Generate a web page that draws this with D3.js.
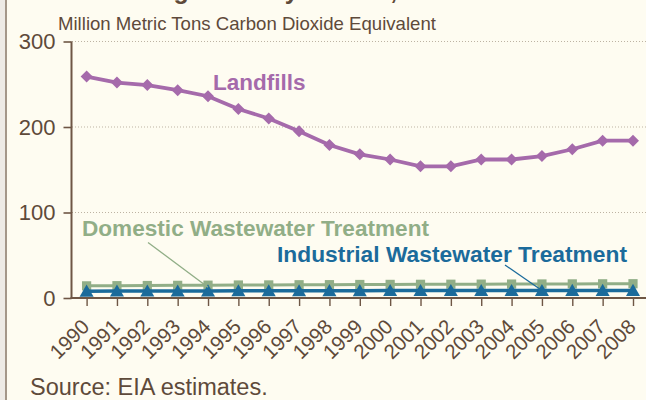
<!DOCTYPE html>
<html><head><meta charset="utf-8">
<script src="https://cdn.jsdelivr.net/npm/d3@7"></script>
<style>
html,body{margin:0;padding:0;background:#FEFCF1;}
svg{display:block;font-family:"Liberation Sans",Arial,Helvetica,sans-serif;}
</style></head>
<body>
<svg id="c" width="646" height="400"></svg>
<script>
const years = [1990,1991,1992,1993,1994,1995,1996,1997,1998,1999,2000,2001,2002,2003,2004,2005,2006,2007,2008];
const landfills = [259,252,249,243,236,221,210,195,179,168,162,154,154,162,162,166,174,184,184];
const domestic = [14.2,14.4,14.6,14.8,15.0,15.2,15.3,15.5,15.6,15.8,15.9,16.0,16.1,16.2,16.3,16.4,16.5,16.6,16.7];
const industrial = [8.0,8.1,8.2,8.2,8.3,8.4,8.5,8.5,8.6,8.6,8.7,8.7,8.7,8.8,8.8,8.8,8.9,8.9,8.9];
const yTicks = [0,100,200,300];
const title = "Waste Management by Source, 1990-2008";
const unitLabel = "Million Metric Tons Carbon Dioxide Equivalent";
const sourceNote = "Source: EIA estimates.";

const brown = "#5E4A3A";
const axisCol = "#6E5645";
const cPurple = "#A56AAB";
const cGreen = "#91AE87";
const cBlue = "#1B6B9B";

const svg = d3.select("#c");
svg.append("rect").attr("width",646).attr("height",400).attr("fill","#FEFCF1");
svg.append("rect").attr("x",0).attr("y",0).attr("width",5).attr("height",400).attr("fill","#EEEBE6");
svg.append("line").attr("x1",6).attr("x2",6).attr("y1",0).attr("y2",400).attr("stroke","#8E7E70").attr("stroke-width",1.6);

const x = d3.scaleLinear().domain([1990,2008]).range([86.6,633]);
const y = d3.scaleLinear().domain([0,300]).range([298,41.5]);

// cut-off title
svg.append("text").attr("x",30).attr("y",-1).attr("fill",brown)
  .attr("font-weight","bold").attr("font-size",25).text(title);

// unit label
svg.append("text").attr("x",58).attr("y",30).attr("fill",brown)
  .attr("font-size",18.6).text(unitLabel);

// gridlines
svg.append("g").selectAll("line").data(yTicks.filter(d=>d>0)).join("line")
  .attr("x1",72).attr("x2",646).attr("y1",d=>y(d)).attr("y2",d=>y(d))
  .attr("stroke","#BDB3A3").attr("stroke-width",1).attr("stroke-dasharray","1,2");

// y axis
const ya = svg.append("g").attr("transform","translate(71.5,0)")
  .call(d3.axisLeft(y).tickValues(yTicks).tickSize(8).tickPadding(8));
ya.select(".domain").remove();
ya.selectAll(".tick line").attr("stroke",axisCol).attr("stroke-width",1.6);
ya.selectAll(".tick text").attr("fill",brown).attr("font-size",22).attr("font-family","Liberation Sans, Arial, sans-serif");
svg.append("line").attr("x1",71.5).attr("x2",71.5).attr("y1",y(300)).attr("y2",y(0))
  .attr("stroke",axisCol).attr("stroke-width",2);

// x axis
const xa = svg.append("g").attr("transform",`translate(0,${y(0)})`)
  .call(d3.axisBottom(x).tickValues(years).tickFormat(d3.format("d")).tickSize(8).tickPadding(4));
xa.select(".domain").remove();
xa.selectAll(".tick line").attr("stroke",axisCol).attr("stroke-width",1.4);
xa.selectAll(".tick text").attr("fill",brown).attr("font-size",20.5)
  .attr("font-family","Liberation Sans, Arial, sans-serif")
  .attr("text-anchor","end").attr("x",0).attr("y",0).attr("dy",0)
  .attr("transform","translate(3.5,30) rotate(-45)");
svg.append("line").attr("x1",70.5).attr("x2",646).attr("y1",y(0)).attr("y2",y(0))
  .attr("stroke",axisCol).attr("stroke-width",2);

// lines
const line = arr => d3.line().x((d,i)=>x(years[i])).y(d=>y(d))(arr);

// domestic
svg.append("path").attr("d",line(domestic)).attr("fill","none").attr("stroke",cGreen).attr("stroke-width",3);
svg.append("g").selectAll("path").data(domestic).join("path")
  .attr("d",d3.symbol(d3.symbolSquare,85)())
  .attr("transform",(d,i)=>`translate(${x(years[i])},${y(d)})`).attr("fill",cGreen);

// industrial
svg.append("path").attr("d",line(industrial)).attr("fill","none").attr("stroke",cBlue).attr("stroke-width",3.5);
svg.append("g").selectAll("path").data(industrial).join("path")
  .attr("d",d3.symbol(d3.symbolTriangle,85)())
  .attr("transform",(d,i)=>`translate(${x(years[i])},${y(d)+1.5})`).attr("fill",cBlue);

// landfills
svg.append("path").attr("d",line(landfills)).attr("fill","none").attr("stroke",cPurple).attr("stroke-width",3.8);
svg.append("g").selectAll("path").data(landfills).join("path")
  .attr("d",d3.symbol(d3.symbolSquare,72)())
  .attr("transform",(d,i)=>`translate(${x(years[i])},${y(d)}) rotate(45)`).attr("fill",cPurple);

// leader lines
svg.append("line").attr("x1",148).attr("y1",242.5).attr("x2",x(1994)).attr("y2",y(domestic[4])+2)
  .attr("stroke",cGreen).attr("stroke-width",1.3);
svg.append("line").attr("x1",505).attr("y1",265).attr("x2",x(2005)).attr("y2",y(industrial[15]))
  .attr("stroke",cBlue).attr("stroke-width",1.3);

// series labels
svg.append("text").attr("x",213).attr("y",89.5).attr("fill",cPurple)
  .attr("font-weight","bold").attr("font-size",22.5).text("Landfills");
svg.append("text").attr("x",82).attr("y",236).attr("fill",cGreen)
  .attr("font-weight","bold").attr("font-size",22.6).text("Domestic Wastewater Treatment");
svg.append("text").attr("x",277).attr("y",261.5).attr("fill",cBlue)
  .attr("font-weight","bold").attr("font-size",22.8).text("Industrial Wastewater Treatment");

// source
svg.append("text").attr("x",30).attr("y",395).attr("fill",brown)
  .attr("font-size",23.5).text(sourceNote);
</script>
</body></html>
